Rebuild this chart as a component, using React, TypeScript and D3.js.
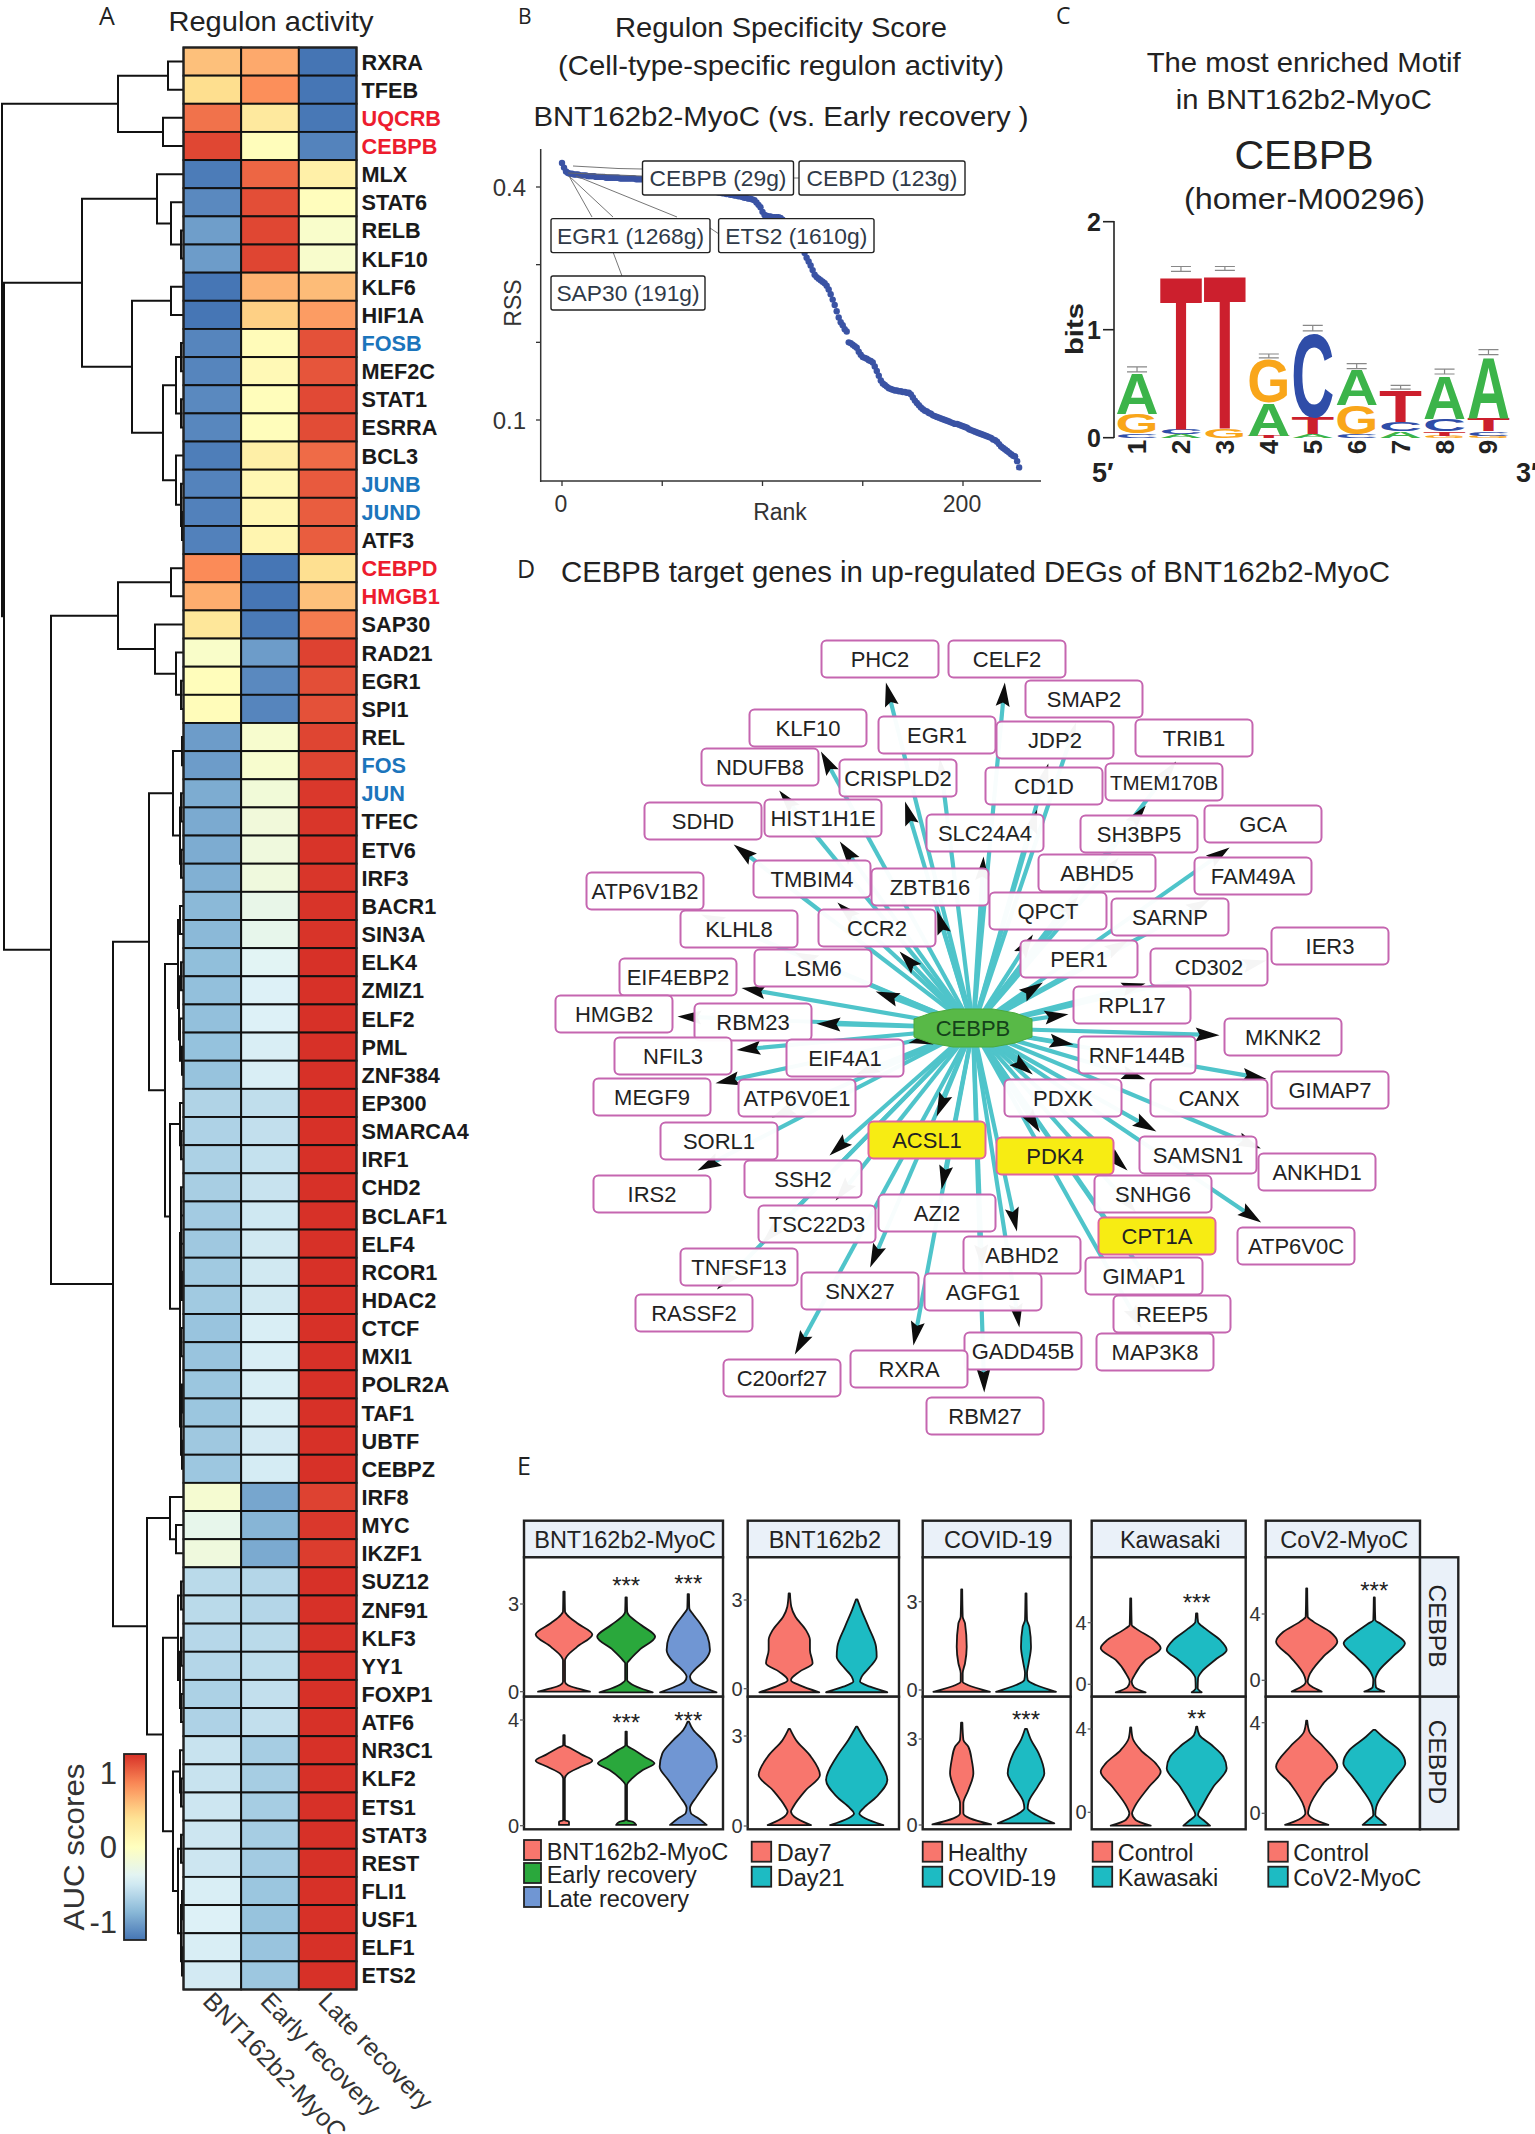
import * as d3 from "d3";
import * as React from "react";

const FONT = "'Liberation Sans', Arial, sans-serif";

// ---------- A: regulon heatmap ----------
const regulons = ["RXRA","TFEB","UQCRB","CEBPB","MLX","STAT6","RELB","KLF10","KLF6","HIF1A","FOSB","MEF2C","STAT1","ESRRA","BCL3","JUNB","JUND","ATF3","CEBPD","HMGB1","SAP30","RAD21","EGR1","SPI1","REL","FOS","JUN","TFEC","ETV6","IRF3","BACR1","SIN3A","ELK4","ZMIZ1","ELF2","PML","ZNF384","EP300","SMARCA4","IRF1","CHD2","BCLAF1","ELF4","RCOR1","HDAC2","CTCF","MXI1","POLR2A","TAF1","UBTF","CEBPZ","IRF8","MYC","IKZF1","SUZ12","ZNF91","KLF3","YY1","FOXP1","ATF6","NR3C1","KLF2","ETS1","STAT3","REST","FLI1","USF1","ELF1","ETS2"];
const redRegulons = ["UQCRB","CEBPB","CEBPD","HMGB1"];
const blueRegulons = ["FOSB","JUNB","JUND","FOS","JUN"];
const conditions = ["BNT162b2-MyoC","Early recovery","Late recovery"];
const aucMyoc = [.535,.39,.88,1.06,-1.12,-1.05,-.94,-.95,-1.15,-1.15,-1.07,-1.07,-1.05,-1.06,-1.11,-1.08,-1.09,-1.09,.78,.62,.3,-.07,.03,.04,-.95,-.95,-.87,-.88,-.87,-.85,-.8,-.8,-.77,-.76,-.76,-.75,-.74,-.62,-.63,-.64,-.66,-.68,-.7,-.69,-.69,-.73,-.73,-.72,-.72,-.7,-.71,-.12,-.3,-.2,-.57,-.57,-.59,-.6,-.64,-.63,-.5,-.5,-.48,-.48,-.48,-.42,-.4,-.42,-.45];
const aucEarly = [.64,.76,.27,.03,.93,1.03,1.06,1.07,.6,.46,.05,.07,.03,.03,.2,.1,.11,.12,-1.15,-1.15,-1.13,-.95,-1.05,-1.07,-.1,-.1,-.17,-.18,-.2,-.2,-.28,-.3,-.36,-.4,-.4,-.42,-.42,-.54,-.53,-.52,-.5,-.47,-.46,-.46,-.46,-.42,-.42,-.42,-.42,-.45,-.44,-.9,-.82,-.88,-.6,-.6,-.57,-.55,-.53,-.53,-.67,-.67,-.67,-.67,-.68,-.72,-.74,-.73,-.71];
const aucLate = [-1.155,-1.15,-1.14,-1.08,.19,.02,-.08,-.09,.55,.7,1.02,1,1.05,1.04,.91,.98,.97,.97,.38,.53,.84,1.08,1.03,1.02,1.07,1.07,1.12,1.13,1.14,1.13,1.14,1.14,1.15,1.15,1.15,1.15,1.15,1.15,1.15,1.15,1.15,1.15,1.15,1.15,1.15,1.15,1.15,1.15,1.15,1.15,1.15,1.08,1.12,1.1,1.15,1.15,1.15,1.15,1.15,1.15,1.15,1.15,1.15,1.15,1.15,1.15,1.15,1.15,1.15];
const aucColors = ["#4575B4","#91BFDB","#E0F3F8","#FFFFBF","#FEE090","#FC8D59","#D73027"];

// merge height, then two children; a number is a row of the heatmap
type Tree = number | [number, Tree, Tree];
const regulonTree: Tree = [181,
  [65, [15, 0, 1], [20, 2, 3]],
  [179,
    [101,
      [26, 4, [12, 5, [2, 6, 7]]],
      [51, [12, 8, 9], [20, [7, [2, 10, 11], [2, 12, 13]], [7, 14, [2, 15, [1, 16, 17]]]]]],
    [132,
      [65, [12, 18, 19], [28, 20, [7, 21, [2, 22, 23]]]],
      [70,
        [34,
          [10, [1, 24, 25], [3, [2, 26, 27], [2, 28, 29]]],
          [18,
            [5, [3, 30, 31], [4, [2, 32, 33], [3, 34, [1, 35, 36]]]],
            [13, [3, 37, [2, 38, 39]], [3, [2, [2, 40, 41], [2, 42, [1, 43, 44]]], [3, [2, 45, 46], [2, [1, 47, 48], [1, 49, 50]]]]]]],
        [36,
          [13, 51, [7, 52, 53]],
          [20,
            [5, [2, 54, 55], [3, [2, 56, 57], [2, 58, 59]]],
            [10, [3, 60, [2, 61, 62]], [5, [2, 63, 64], [2, [1, 65, 66], [1, 67, 68]]]]]]]]]];

const HeatmapPanel = () => {
  const x = d3.scaleBand<string>().domain(conditions).range([183.5, 356.5]);
  const y = d3.scaleBand<string>().domain(regulons).range([47.5, 1989.5]);
  const colour = d3.scaleLinear<string>().domain(d3.range(7).map((i) => -1.155 + i * 0.385)).range(aucColors);
  const dendroX = d3.scaleLinear().domain([0, 181]).range([183, 2]);
  const columns = [aucMyoc, aucEarly, aucLate];

  const path = d3.path();
  const walk = (node: Tree): { h: number; pos: number } => {
    if (typeof node === "number") return { h: 0, pos: y(regulons[node])! + y.bandwidth() / 2 };
    const [h, a, b] = node;
    const l = walk(a);
    const r = walk(b);
    path.moveTo(dendroX(l.h), l.pos);
    path.lineTo(dendroX(h), l.pos);
    path.lineTo(dendroX(h), r.pos);
    path.lineTo(dendroX(r.h), r.pos);
    return { h, pos: (l.pos + r.pos) / 2 };
  };
  walk(regulonTree);

  const barY = d3.scaleLinear().domain([-1.26, 1.24]).range([1940, 1754]);
  const barStops = d3.range(0, 1.0001, 0.05);

  return (
    <g>
      <text x={99} y={25} fontFamily="'Open Sans'" fontSize={25} fill="#222">A</text>
      <text x={168.5} y={31} fontSize={28} fill="#222" textLength={205} lengthAdjust="spacingAndGlyphs">Regulon activity</text>
      <path d={path.toString()} fill="none" stroke="#111" strokeWidth={2} />
      {columns.map((vals, c) =>
        vals.map((v, r) => (
          <rect key={`${c}-${r}`} x={x(conditions[c])} y={y(regulons[r])} width={x.bandwidth()} height={y.bandwidth()}
            fill={colour(v)} stroke="#111" strokeWidth={1.9} />
        )),
      )}
      <rect x={183.5} y={47.5} width={173} height={1942} fill="none" stroke="#222" strokeWidth={2} />
      {regulons.map((name) => (
        <text key={name} x={361.5} y={y(name)! + y.bandwidth() / 2 + 8} fontSize={21.7} fontWeight="bold"
          fill={redRegulons.includes(name) ? "#ED1C2E" : blueRegulons.includes(name) ? "#1B75BC" : "#1a1a1a"}>{name}</text>
      ))}
      {conditions.map((name) => (
        <text key={name} transform={`translate(${x(name)! + 31},1990) rotate(46)`} dy="0.72em" fontSize={25} fill="#333">{name}</text>
      ))}
      <defs>
        <linearGradient id="aucBar" x1="0" y1="1" x2="0" y2="0">
          {barStops.map((t) => (
            <stop key={t} offset={t} stopColor={colour(-1.155 + 2.31 * t)} />
          ))}
        </linearGradient>
      </defs>
      <rect x={124} y={1754} width={22} height={186} fill="url(#aucBar)" stroke="#222" strokeWidth={1.8} />
      {[-1, 0, 1].map((t) => (
        <text key={t} x={117} y={barY(t) + 12} textAnchor="end" fontSize={31} fill="#333">{t}</text>
      ))}
      <text transform="translate(84,1847) rotate(-90)" textAnchor="middle" fontSize={30} fill="#333" textLength={167} lengthAdjust="spacingAndGlyphs">AUC scores</text>
    </g>
  );
};

// ---------- B: regulon specificity score ----------
const rssValues = [
  .431,.425,.420,.418,.417,.417,.416,.416,.416,.415,.415,.415,.415,.414,.414,.414,.414,.413,.413,.413,
  .413,.413,.412,.412,.412,.412,.412,.412,.412,.411,.411,.411,.411,.411,.411,.411,.411,.410,.410,.410,
  .410,.410,.409,.409,.409,.408,.408,.408,.407,.407,.407,.406,.406,.405,.405,.405,.404,.404,.403,.403,
  .402,.402,.401,.401,.400,.400,.399,.399,.398,.398,.397,.397,.396,.396,.395,.395,.394,.394,.393,.393,
  .392,.392,.391,.391,.390,.390,.389,.389,.388,.388,.387,.386,.386,.385,.385,.384,.383,.380,.377,.374,
  .368,.364,.363,.362,.362,.361,.361,.361,.361,.360,.358,.355,.352,.349,.346,.342,.338,.334,.330,.326,
  .320,.315,.309,.304,.299,.293,.287,.284,.282,.280,.278,.276,.273,.268,.262,.255,.248,.240,.232,.226,
  .222,.217,.214,.200,.199,.197,.195,.193,.188,.184,.181,.180,.179,.177,.176,.174,.169,.163,.157,.151,
  .147,.145,.143,.141,.140,.139,.138,.138,.137,.137,.136,.136,.135,.135,.133,.129,.125,.122,.119,.116,
  .114,.112,.111,.109,.108,.106,.105,.104,.103,.102,.101,.100,.099,.098,.097,.096,.095,.095,.094,.093,
  .092,.091,.090,.088,.087,.086,.085,.084,.083,.082,.081,.080,.079,.078,.077,.075,.074,.072,.069,.066,
  .064,.062,.060,.058,.056,.054,.053,.047,.039];
const rssLabels = ["CEBPB (29g)","CEBPD (123g)","EGR1 (1268g)","ETS2 (1610g)","SAP30 (191g)"];

const RssPanel = () => {
  const x = d3.scaleLinear().domain([0, 200]).range([562, 963]);
  const y = d3.scaleLinear().domain([0.1, 0.4]).range([420, 187]);
  const boxes = [[642.5, 161, 151], [799, 161, 166], [551, 218.6, 159], [718.6, 218.6, 155.4], [551, 276, 154]];
  const guides = [
    [[573, 166], [618, 168.5], [642, 169]],
    [[568, 173], [642, 176]],
    [[793, 178], [799, 178]],
    [[569, 176], [592, 217]],
    [[569, 176], [613, 217]],
    [[613, 252], [622, 276]],
    [[576, 176], [677, 217]],
    [[710, 228], [719, 234]],
  ];
  return (
    <g>
      <text x={518} y={24} fontFamily="'Open Sans'" fontSize={21} fill="#222">B</text>
      <text x={781} y={37} textAnchor="middle" fontSize={28} fill="#222" textLength={332} lengthAdjust="spacingAndGlyphs">Regulon Specificity Score</text>
      <text x={781} y={75} textAnchor="middle" fontSize={28} fill="#222" textLength={446} lengthAdjust="spacingAndGlyphs">(Cell-type-specific regulon activity)</text>
      <text x={781} y={126} textAnchor="middle" fontSize={28} fill="#222" textLength={495} lengthAdjust="spacingAndGlyphs">BNT162b2-MyoC (vs. Early recovery )</text>
      <line x1={540.7} x2={540.7} y1={149} y2={482} stroke="#333" strokeWidth={1.5} />
      <line x1={540} x2={1041} y1={481} y2={481} stroke="#333" strokeWidth={1.5} />
      {y.ticks(3).map((t) => (
        <line key={t} x1={536} x2={540.7} y1={y(t)} y2={y(t)} stroke="#333" strokeWidth={1.3} />
      ))}
      {d3.range(0, 201, 50).map((t) => (
        <line key={t} x1={x(t)} x2={x(t)} y1={481} y2={486} stroke="#333" strokeWidth={1.3} />
      ))}
      {[0.4, 0.1].map((t) => (
        <text key={t} x={526} y={y(t) + 9} textAnchor="end" fontSize={24} fill="#333">{t}</text>
      ))}
      {[0, 200].map((t) => (
        <text key={t} x={x(t) - 1} y={512} textAnchor="middle" fontSize={23} fill="#333">{t}</text>
      ))}
      <text x={780} y={520} textAnchor="middle" fontSize={23} fill="#333">Rank</text>
      <text transform="translate(521,303) rotate(-90)" textAnchor="middle" fontSize={23} fill="#333">RSS</text>
      {rssValues.map((v, i) => (
        <circle key={i} cx={x(i)} cy={y(v)} r={3.2} fill="#3A53A4" />
      ))}
      {guides.map((g, i) => (
        <path key={i} d={d3.line()(g as [number, number][])!} fill="none" stroke="#666" strokeWidth={0.9} />
      ))}
      {rssLabels.map((label, i) => (
        <g key={label}>
          <rect x={boxes[i][0]} y={boxes[i][1]} width={boxes[i][2]} height={34} rx={2} fill="#fff" stroke="#222" strokeWidth={1.4} />
          <text x={boxes[i][0] + boxes[i][2] / 2} y={boxes[i][1] + 25} textAnchor="middle" fontSize={22.8} fill="#2f3a48">{label}</text>
        </g>
      ))}
    </g>
  );
};

// ---------- C: motif logo ----------
const motifPositions = ["1","2","3","4","5","6","7","8","9"];
// stacks run from the bottom letter up: letter and its height in bits
const motifStacks: [string, number][][] = [
  [["C",.04],["G",.18],["A",.38]],
  [["A",.03],["C",.05],["T",1.45]],
  [["G",.09],["T",1.45]],
  [["T",.02],["A",.31],["G",.40]],
  [["A",.03],["T",.16],["C",.79]],
  [["C",.03],["G",.27],["A",.33]],
  [["A",.06],["C",.09],["T",.29]],
  [["G",.02],["T",.04],["C",.11],["A",.41]],
  [["G",.02],["C",.04],["T",.12],["A",.58]],
];
const motifErrors = [.055,.055,.045,.045,.06,.055,.045,.055,.055];
const letterColours: Record<string, string> = { A: "#3CB44A", C: "#2F4DA8", G: "#F9A61A", T: "#CC1F2D" };
const letterWidths: Record<string, number> = { A: 0.722, C: 0.722, G: 0.778, T: 0.611 };

const MotifPanel = () => {
  const x = d3.scaleBand<string>().domain(motifPositions).range([1115.5, 1510]).paddingInner(0.02);
  const y = d3.scaleLinear().domain([0, 2]).range([437.7, 221.7]);
  return (
    <g>
      <text x={1056} y={24} fontFamily="'Open Sans'" fontSize={23} fill="#222">C</text>
      <text x={1303.7} y={72} textAnchor="middle" fontSize={28} fill="#222" textLength={314} lengthAdjust="spacingAndGlyphs">The most enriched Motif</text>
      <text x={1303.7} y={109} textAnchor="middle" fontSize={28} fill="#222" textLength={256} lengthAdjust="spacingAndGlyphs">in BNT162b2-MyoC</text>
      <text x={1304} y={168.5} textAnchor="middle" fontSize={41} fill="#222">CEBPB</text>
      <text x={1304.5} y={209} textAnchor="middle" fontSize={30} fill="#222" textLength={241} lengthAdjust="spacingAndGlyphs">(homer-M00296)</text>
      <line x1={1114} x2={1114} y1={221} y2={438} stroke="#222" strokeWidth={1.6} />
      {[0, 1, 2].map((t) => (
        <g key={t}>
          <line x1={1103} x2={1114} y1={y(t)} y2={y(t)} stroke="#222" strokeWidth={1.6} />
          <text x={1101} y={y(t) + 9} textAnchor="end" fontSize={25} fontWeight="bold" fill="#222">{t}</text>
        </g>
      ))}
      <text transform="translate(1083,329) rotate(-90)" textAnchor="middle" fontSize={24} fontWeight="bold" fill="#222" textLength={52} lengthAdjust="spacingAndGlyphs">bits</text>
      {motifPositions.map((pos, i) => {
        let base = 0;
        const cx = x(pos)! + x.bandwidth() / 2;
        const stack = motifStacks[i];
        const total = d3.sum(stack, (s) => s[1]);
        return (
          <g key={pos}>
            {stack.map(([letter, bits], k) => {
              const top = y(base + bits);
              const h = y(base) - top;
              base += bits;
              const sx = x.bandwidth() / (letterWidths[letter] * 100);
              const sy = h / 71.6;
              return (
                <text key={k} transform={`translate(${x(pos)},${top + h}) scale(${sx},${sy})`} fontSize={100} fontWeight="bold" fill={letterColours[letter]}>{letter}</text>
              );
            })}
            <path d={`M${cx - 10},${y(total + 0.01)}h20M${cx},${y(total + 0.01)}V${y(total + motifErrors[i])}M${cx - 10},${y(total + motifErrors[i])}h20`} fill="none" stroke="#888" strokeWidth={1.2} />
            <text transform={`translate(${cx + 9},447) rotate(-90)`} textAnchor="middle" fontSize={26} fontWeight="bold" fill="#222">{pos}</text>
          </g>
        );
      })}
      <text x={1092} y={482} fontSize={27} fontWeight="bold" fill="#222">5′</text>
      <text x={1516} y={482} fontSize={27} fontWeight="bold" fill="#222">3′</text>
    </g>
  );
};

// ---------- D: CEBPB target network ----------
const hubGene = "CEBPB";
const geneNames = ["PHC2","CELF2","KLF10","EGR1","SMAP2","JDP2","TRIB1","NDUFB8","CRISPLD2","CD1D","TMEM170B","SDHD","HIST1H1E","SLC24A4","SH3BP5","GCA","ATP6V1B2","TMBIM4","ZBTB16","ABHD5","FAM49A","KLHL8","CCR2","QPCT","SARNP","EIF4EBP2","LSM6","PER1","IER3","CD302","HMGB2","RBM23","RPL17","MKNK2","NFIL3","EIF4A1","RNF144B","GIMAP7","CANX","PDXK","MEGF9","ATP6V0E1","SORL1","ACSL1","SAMSN1","PDK4","ANKHD1","SSH2","IRS2","SNHG6","AZI2","TSC22D3","CPT1A","ATP6V0C","ABHD2","TNFSF13","GIMAP1","SNX27","AGFG1","REEP5","RASSF2","GADD45B","MAP3K8","RXRA","C20orf27","RBM27"];
const geneEast = [-93,34,-165,-36,111,82,221,-213,-75,71,191,-270,-150,12,166,290,-328,-161,-43,124,280,-234,-96,75,197,-295,-160,106,357,236,-359,-220,159,310,-300,-128,164,357,236,90,-321,-176,-254,-46,225,82,344,-170,-321,180,-36,-156,184,323,49,-234,171,-113,10,199,-279,50,182,-64,-191,12];
const geneSouth = [-369,-369,-300,-293,-329,-288,-290,-261,-250,-242,-246,-207,-210,-195,-194,-204,-137,-149,-141,-155,-152,-99,-100,-117,-111,-51,-60,-69,-82,-61,-14,-6,-23,9,28,30,27,62,70,70,69,70,113,112,127,128,144,151,166,166,185,196,208,218,227,239,248,263,264,286,285,323,324,341,350,388];
const highlightGenes = ["ACSL1","PDK4","CPT1A"];

const NetworkPanel = () => {
  const netX = d3.scaleLinear().domain([-400, 400]).range([573, 1373]);
  const netY = d3.scaleLinear().domain([-400, 400]).range([628, 1428]);
  const hx = netX(0);
  const hy = netY(0);
  const halfW = 58.5;
  const halfH = 18.5;
  const nodes = geneNames.map((name, i) => {
    const cx = netX(geneEast[i]);
    const cy = netY(geneSouth[i]);
    const dx = cx - hx;
    const dy = cy - hy;
    const len = Math.hypot(dx, dy);
    const t = Math.min((halfW + 5) / Math.abs(dx || 1e-6), (halfH + 5) / Math.abs(dy || 1e-6));
    const tipX = cx - dx * t;
    const tipY = cy - dy * t;
    const ux = dx / len;
    const uy = dy / len;
    const p = d3.path();
    p.moveTo(tipX, tipY);
    p.lineTo(tipX - ux * 24 - uy * 7, tipY - uy * 24 + ux * 7);
    p.lineTo(tipX - ux * 20, tipY - uy * 20);
    p.lineTo(tipX - ux * 24 + uy * 7, tipY - uy * 24 - ux * 7);
    p.closePath();
    return { name, cx, cy, tipX, tipY, ux, uy, arrow: p.toString() };
  });
  const hubShape = d3.line()([
    [hx - 59, hy - 9], [hx - 42, hy - 15], [hx - 20, hy - 19], [hx + 20, hy - 19], [hx + 42, hy - 15], [hx + 59, hy - 9],
    [hx + 59, hy + 9], [hx + 42, hy + 15], [hx + 20, hy + 19], [hx - 20, hy + 19], [hx - 42, hy + 15], [hx - 59, hy + 9],
  ]);
  return (
    <g>
      <text x={517} y={578} fontFamily="'Open Sans'" fontSize={25} fill="#222">D</text>
      <text x={561} y={582} fontSize={29} fill="#222" textLength={829} lengthAdjust="spacingAndGlyphs">CEBPB target genes in up-regulated DEGs of BNT162b2-MyoC</text>
      {nodes.map((n) => (
        <line key={n.name} x1={hx} y1={hy} x2={n.tipX - n.ux * 18} y2={n.tipY - n.uy * 18} stroke="#4FC4CA" strokeWidth={4.2} />
      ))}
      {nodes.map((n) => (
        <path key={n.name} d={n.arrow} fill="#0d0d0d" />
      ))}
      {nodes.map((n) => {
        const hot = highlightGenes.includes(n.name);
        return (
          <g key={n.name}>
            <rect x={n.cx - halfW} y={n.cy - halfH} width={halfW * 2} height={halfH * 2} rx={5} fill={hot ? "#F7EC13" : "#fff"} fillOpacity={hot ? 1 : 0.96} stroke={hot ? "#E064A0" : "#C566B0"} strokeWidth={2} />
            <text x={n.cx} y={n.cy + 8} textAnchor="middle" fontSize={n.name === "TMEM170B" ? 20.5 : 22} fill="#222">{n.name}</text>
          </g>
        );
      })}
      <path d={`${hubShape}Z`} fill="#58B947" stroke="#4BA83C" strokeWidth={1} />
      <text x={hx} y={hy + 8} textAnchor="middle" fontSize={22} fill="#14421a">{hubGene}</text>
    </g>
  );
};

// ---------- E: violins ----------
// each violin: [expression, density] from top to bottom
type Violin = [number, number][];
const myocCebpb: Violin[] = [
  [[3.42,2],[2.74,3],[2.62,10],[2.34,40],[1.96,85],[1.54,40],[1.2,8],[1.08,3],[.34,3],[.22,12],[.11,40],[0,78]],
  [[3.23,2],[2.74,3],[2.62,8],[2.28,45],[1.88,87],[1.43,40],[1.08,10],[.97,3],[.4,3],[.29,12],[.11,45],[-.02,80]],
  [[3.34,2],[2.85,3],[2.68,12],[2.34,35],[1.88,58],[1.43,65],[1.08,50],[.74,18],[.51,5],[.34,12],[.17,40],[-.02,85]],
];
const myocCebpd: Violin[] = [
  [[3.43,2],[3.05,2.5],[2.93,20],[2.68,55],[2.46,85],[2.23,50],[1.98,12],[1.79,2.5],[.21,2.5],[.15,15],[.03,15]],
  [[3.56,2],[3.05,2.5],[2.86,25],[2.61,55],[2.36,85],[2.11,50],[1.79,18],[1.54,2.5],[.21,2.5],[.15,20],[.03,30]],
  [[3.94,2],[3.62,15],[3.24,45],[2.74,78],[2.23,86],[1.73,60],[1.1,25],[.66,5],[.47,8],[.28,30],[.03,55]],
];
const bntCebpb: Violin[] = [
  [[3.22,2],[2.77,6],[2.44,18],[1.98,50],[1.65,62],[1.31,62],[.86,70],[.57,30],[.29,5],[.12,30],[-.12,90]],
  [[3.02,2],[2.66,14],[2.1,35],[1.42,58],[1.08,60],[.74,40],[.41,15],[.24,10],[.07,40],[-.12,92]],
];
const bntCebpd: Violin[] = [
  [[3.24,2],[2.87,20],[2.31,65],[1.7,92],[1.2,50],[.64,12],[.48,5],[.31,15],[.03,65]],
  [[3.31,2],[2.87,25],[2.31,60],[1.53,92],[.98,60],[.59,20],[.42,8],[.26,25],[.03,80]],
];
const covidCebpb: Violin[] = [
  [[3.42,1.5],[2.49,3],[2.26,10],[1.47,15],[.91,10],[.57,3],[.28,3],[.17,18],[-.06,85]],
  [[3.28,1.5],[2.38,3],[2.15,10],[1.47,15],[.91,8],[.57,3],[.34,5],[.17,30],[-.06,90]],
];
const covidCebpd: Violin[] = [
  [[3.57,2],[2.97,5],[2.73,20],[2.27,30],[1.8,35],[1.22,20],[.76,5],[.41,5],[.23,25],[.02,88]],
  [[3.35,3],[2.97,15],[2.5,38],[1.8,55],[1.34,35],[.81,8],[.58,5],[.35,30],[.06,85]],
];
const kawasakiCebpb: Violin[] = [
  [[5.58,1.5],[3.85,3],[3.63,15],[2.88,70],[2.34,90],[1.58,45],[.61,12],[.17,3],[-.19,10],[-.52,45]],
  [[4.61,2],[4.06,4],[3.63,25],[2.88,70],[2.23,90],[1.58,55],[.82,15],[.39,4],[-.26,3],[-.52,15]],
];
const kawasakiCebpd: Violin[] = [
  [[4.08,1.5],[3.55,6],[2.99,30],[2.35,75],[1.95,90],[1.23,55],[.27,12],[-.05,4],[-.37,15],[-.64,60]],
  [[4.11,1.5],[3.71,8],[3.23,45],[2.67,80],[2.11,90],[1.23,50],[.35,18],[-.13,4],[-.37,20],[-.64,40]],
];
const cov2Cebpb: Violin[] = [
  [[5.55,1.5],[3.84,3],[3.54,20],[2.93,70],[2.33,92],[1.43,50],[.22,6],[-.08,3],[-.38,15],[-.68,45]],
  [[5,1.5],[3.64,3],[3.4,20],[2.83,60],[2.23,92],[1.43,55],[.52,12],[.02,3],[-.42,5],[-.68,30]],
];
const cov2Cebpd: Violin[] = [
  [[4.09,1.5],[3.6,8],[2.94,50],[2.06,92],[1.32,50],[.29,8],[0,4],[-.26,22],[-.51,65]],
  [[3.68,3],[3.38,25],[2.79,75],[2.21,93],[1.62,65],[1.03,35],[.29,6],[-.07,3],[-.26,15],[-.51,35]],
];
const cohorts = ["BNT162b2-MyoC","BNT162b2","COVID-19","Kawasaki","CoV2-MyoC"];
const targetGenes = ["CEBPB","CEBPD"];
const cohortGroups = [
  ["BNT162b2-MyoC","Early recovery","Late recovery"],
  ["Day7","Day21"],
  ["Healthy","COVID-19"],
  ["Control","Kawasaki"],
  ["Control","CoV2-MyoC"],
];
const cohortViolins = [
  [myocCebpb, myocCebpd],
  [bntCebpb, bntCebpd],
  [covidCebpb, covidCebpd],
  [kawasakiCebpb, kawasakiCebpd],
  [cov2Cebpb, cov2Cebpd],
];
// significance marks: cohort, gene, group
const cohortStars: [number, number, number, string][] = [
  [0,0,1,"***"],[0,0,2,"***"],[0,1,1,"***"],[0,1,2,"***"],[2,1,1,"***"],[3,0,1,"***"],[3,1,1,"**"],[4,0,1,"***"],
];
const topTicks = [[3,4],[3,3],[3,3],[4,4],[4,4]];

const groupFills = ["#F8766D","#1DBBC3"];
const myocFills = ["#F8766D","#2AA83C","#7096D3"];

const ViolinPanel = () => {
  const panels = [[524,723],[747.7,899],[922.7,1070.7],[1091.7,1245.7],[1265.7,1420]];
  const centres = [[564,688.3],[789.3,856.7],[961.7,1026],[1130.7,1196.7],[1306.7,1374.3]];
  const rows = [[1557.3,1696.7],[1696.7,1829.3]];
  const zeroY = [[1691.7,1825.7],[1688.7,1826],[1690,1825],[1684.3,1812.3],[1680.3,1813.3]];
  const topY = [[1604,1720],[1600,1736],[1601.7,1739],[1622.7,1729],[1614,1722.7]];
  const starY = [[1585,1722],[0,0],[0,1719],[1601.7,1717.7],[1590,0]];
  const legendY = [[1840,1863,1887],[1841.7,1866.7],[1841.7,1866.7],[1841.7,1866.7],[1841.7,1866.7]];
  const swatchX = [524,751.7,922.7,1092.7,1268.3];
  const width = d3.scaleLinear().domain([0, 100]).range([0, 33.3]);

  return (
    <g>
      <text x={517} y={1475} fontFamily="'Open Sans'" fontSize={25} fill="#222">E</text>
      {cohorts.map((cohort, c) => {
        const [left, right] = panels[c];
        const fills = c === 0 ? myocFills : groupFills;
        const x = d3.scalePoint<string>().domain(cohortGroups[c]).range(centres[c] as [number, number]);
        return (
          <g key={cohort}>
            <rect x={left} y={1520.7} width={right - left} height={36.6} fill="#EAF1F9" stroke="#222" strokeWidth={2.4} />
            <text x={(left + right) / 2 + 1.5} y={1547.7} textAnchor="middle" fontSize={23.5} fill="#222">{cohort}</text>
            {targetGenes.map((gene, g) => {
              const y = d3.scaleLinear().domain([0, topTicks[c][g]]).range([zeroY[c][g], topY[c][g]]);
              const area = d3.area<[number, number]>()
                .y((d) => y(d[0]))
                .curve(d3.curveMonotoneY);
              return (
                <g key={gene}>
                  <rect x={left} y={rows[g][0]} width={right - left} height={rows[g][1] - rows[g][0]} fill="#fff" stroke="#222" strokeWidth={2.4} />
                  {[0, topTicks[c][g]].map((t) => (
                    <g key={t}>
                      <line x1={left - 4} x2={left} y1={y(t)} y2={y(t)} stroke="#555" strokeWidth={1.2} />
                      <text x={left - 5} y={y(t) + 7} textAnchor="end" fontSize={20} fill="#333">{t}</text>
                    </g>
                  ))}
                  {cohortViolins[c][g].map((v, k) => {
                    const cx = x(cohortGroups[c][k])!;
                    const d = area
                      .x0((p) => cx - width(p[1]))
                      .x1((p) => cx + width(p[1]))(v);
                    return <path key={k} d={d!} fill={fills[k]} stroke="#161616" strokeWidth={1.8} strokeLinejoin="round" />;
                  })}
                  {cohortStars.filter((s) => s[0] === c && s[1] === g).map((s) => (
                    <text key={s[2]} x={x(cohortGroups[c][s[2]])} y={(s[2] === 2 ? starY[c][g] - 2 : starY[c][g]) + 9} textAnchor="middle" fontSize={24} fill="#222">{s[3]}</text>
                  ))}
                </g>
              );
            })}
            {cohortGroups[c].map((group, k) => (
              <g key={group}>
                <rect x={swatchX[c]} y={legendY[c][k]} width={c === 0 ? 17 : 19.5} height={20} fill={fills[k]} stroke="#222" strokeWidth={1.8} />
                <text x={swatchX[c] + (c === 0 ? 22.7 : 25)} y={legendY[c][k] + 19.5} fontSize={23.5} fill="#222">{group}</text>
              </g>
            ))}
          </g>
        );
      })}
      {targetGenes.map((gene, g) => (
        <g key={gene}>
          <rect x={1420} y={rows[g][0]} width={38.3} height={rows[g][1] - rows[g][0]} fill="#EAF1F9" stroke="#222" strokeWidth={2.4} />
          <text transform={`translate(1429,${(rows[g][0] + rows[g][1]) / 2 - 1}) rotate(90)`} textAnchor="middle" fontSize={24.5} fill="#222">{gene}</text>
        </g>
      ))}
    </g>
  );
};

export default function App() {
  return (
    <svg width={1535} height={2134} viewBox="0 0 1535 2134" fontFamily={FONT}
      style={{ position: "absolute", left: 0, top: 0, display: "block", background: "#fff" }}>
      <HeatmapPanel />
      <RssPanel />
      <MotifPanel />
      <NetworkPanel />
      <ViolinPanel />
    </svg>
  );
}
